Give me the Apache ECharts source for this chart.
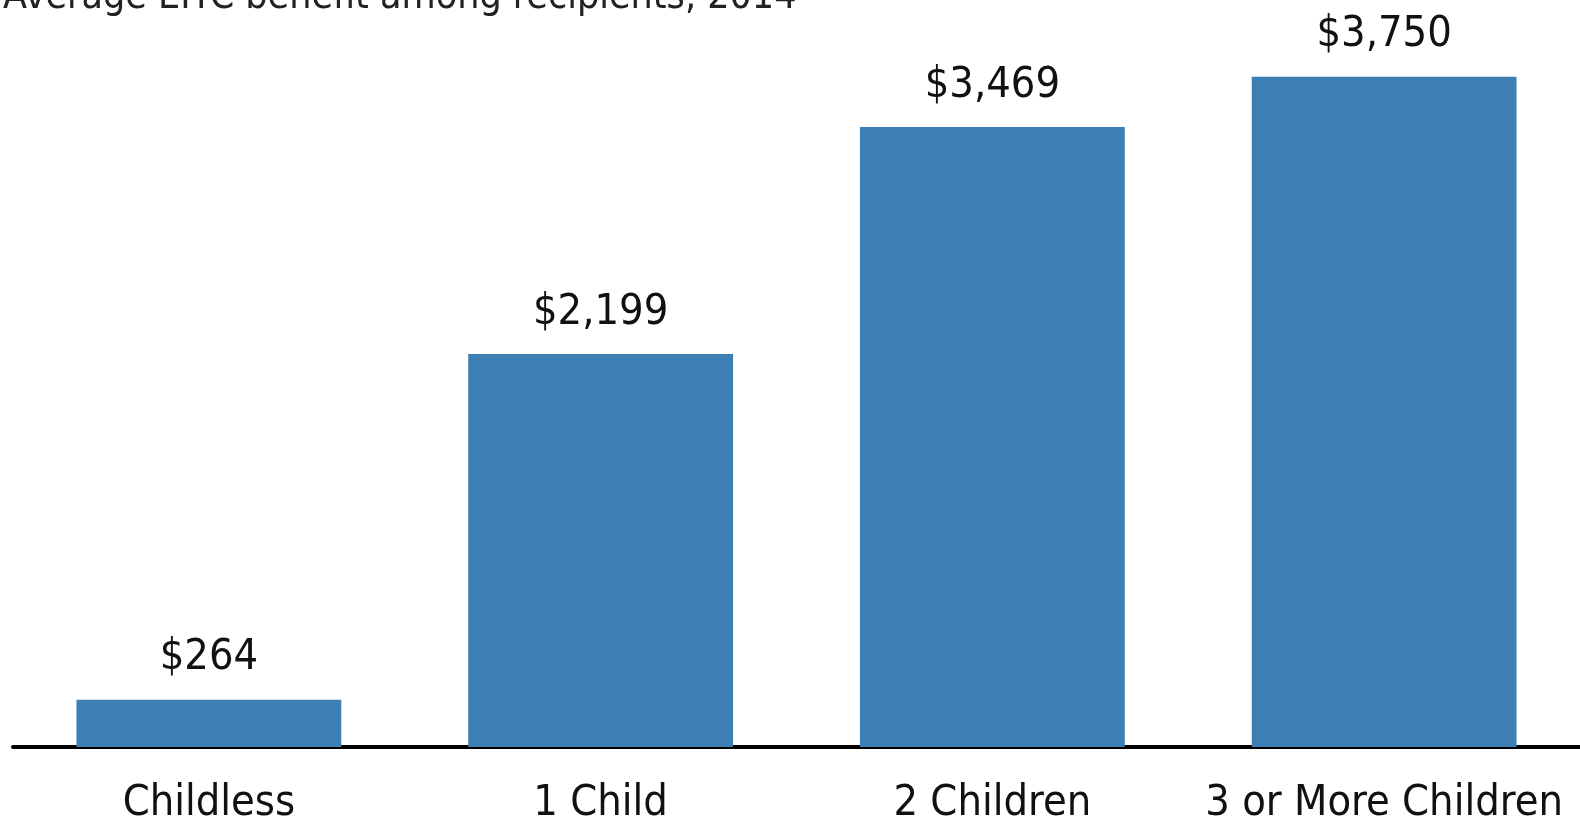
<!DOCTYPE html>
<html>
<head>
<meta charset="utf-8">
<script src="https://cdn.jsdelivr.net/npm/echarts@6/dist/echarts.min.js"></script>
<style>
  html, body { margin: 0; padding: 0; background: #fff; }
  #chart { width: 1580px; height: 826px; }
</style>
</head>
<body>
<div id="chart"></div>
<script>
const titleText = 'Average EITC benefit among recipients, 2014'
const categories = ['Childless', '1 Child', '2 Children', '3 or More Children']
const benefits = [264, 2199, 3469, 3750]

const font = '"Liberation Sans Narrow", "DejaVu Sans Condensed", sans-serif'

function chartsInit(element, option) {
    if (element && option) {
        const charts = echarts.init(element)
        charts.setOption(option)
        return charts
    }
    return null
}

const option = {
    animation: false,
    title: {
        text: titleText,
        left: -2,
        top: -27,
        textStyle: { fontFamily: font, fontSize: 39, fontWeight: 'normal', color: '#222' }
    },
    grid: { left: 13, width: 1569, top: 32, bottom: 79, containLabel: false },
    xAxis: {
        type: 'category',
        data: categories,
        axisLine: { lineStyle: { color: '#000', width: 4 } },
        axisTick: { show: false },
        axisLabel: { interval: 0, fontFamily: font, fontSize: 43, color: '#111', margin: 35 }
    },
    yAxis: {
        type: 'value',
        min: 0,
        max: 4000,
        show: false,
        splitLine: { show: false }
    },
    series: [{
        type: 'bar',
        data: benefits,
        barWidth: '67.6%',
        itemStyle: { color: '#3d7fb5' },
        label: {
            show: true,
            position: 'top',
            distance: 20,
            fontFamily: font,
            fontSize: 43,
            color: '#111',
            formatter: p => '$' + p.value.toLocaleString('en-US')
        }
    }]
}

chartsInit(document.getElementById('chart'), option)
</script>
</body>
</html>
